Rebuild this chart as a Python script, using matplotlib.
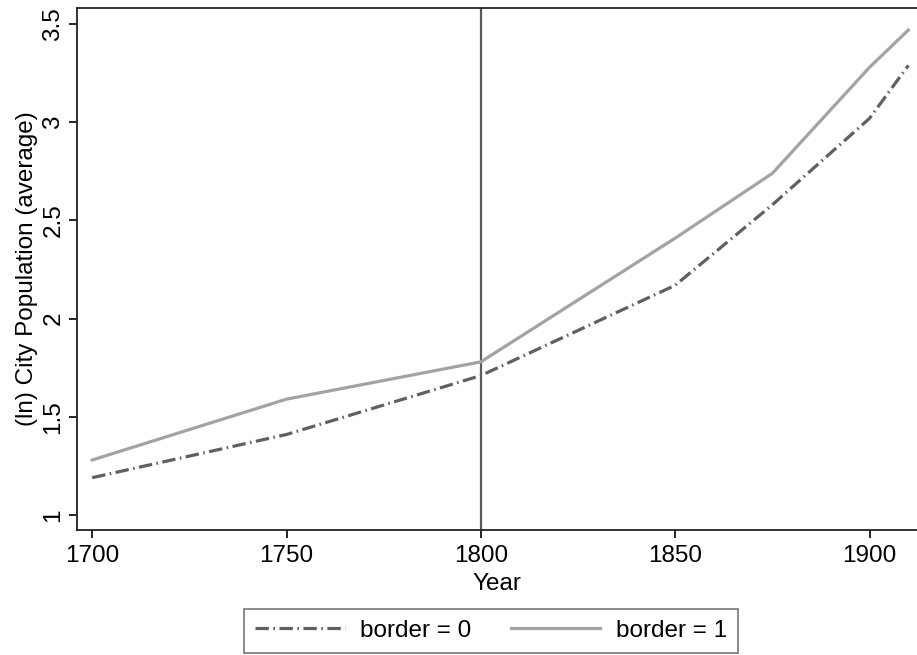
import matplotlib.pyplot as plt

plt.rcParams['font.family'] = ['Liberation Sans', 'DejaVu Sans']

years = [1700, 1750, 1800, 1850, 1875, 1900, 1910]
border0 = [1.19, 1.41, 1.71, 2.17, 2.58, 3.02, 3.29]
border1 = [1.28, 1.59, 1.78, 2.41, 2.74, 3.28, 3.47]
xticks = [1700, 1750, 1800, 1850, 1900]
yticks = [1, 1.5, 2, 2.5, 3, 3.5]
ytick_labels = ['1', '1.5', '2', '2.5', '3', '3.5']

fig = plt.figure(figsize=(9.17, 6.55), dpi=100)
ax = fig.add_axes([0.084, 0.191, 0.9155, 0.797])

ax.axvline(1800, color='#5a5a5a', lw=1.6, zorder=1)
ax.plot(years, border0, color='#606060', lw=2.3,
        linestyle=(0, (4.2, 1.4, 0.5, 1.4)), label='border = 0', zorder=3)
ax.plot(years, border1, color='#a3a3a3', lw=2.3, label='border = 1', zorder=2)

ax.set_xlim(1696.1, 1912.1)
ax.set_ylim(0.924, 3.583)
ax.set_xticks(xticks)
ax.set_yticks(yticks)
ax.set_yticklabels(ytick_labels, rotation=90, va='center')
ax.tick_params(axis='both', labelsize=17.5, length=6, width=1.2, direction='out')
ax.tick_params(axis='y', pad=3)
ax.tick_params(axis='x', pad=5)

for s in ['left', 'bottom', 'top']:
    ax.spines[s].set_linewidth(1.3)
    ax.spines[s].set_color('#222222')
ax.spines['right'].set_visible(False)

ax.set_xlabel('Year', fontsize=17.5, labelpad=4)
ax.set_ylabel('(ln) City Population (average)', fontsize=17.5, labelpad=3)

leg = fig.legend(loc='upper center', bbox_to_anchor=(491 / 917, 1 - 609 / 655),
                 ncol=2, fontsize=17.5, frameon=True, fancybox=False,
                 handlelength=3.7, handletextpad=0.65, columnspacing=1.6,
                 borderpad=0.45, borderaxespad=0)
leg.get_frame().set_edgecolor('#555555')
leg.get_frame().set_linewidth(1.2)

fig.savefig('out.png', dpi=100)
